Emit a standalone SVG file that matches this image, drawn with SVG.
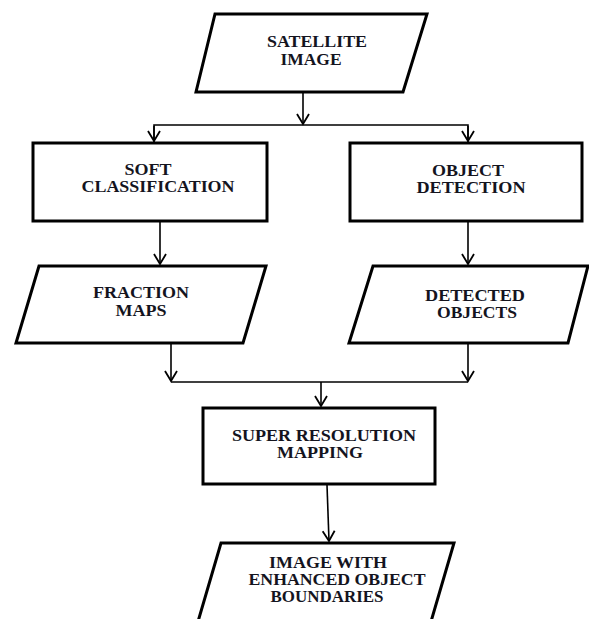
<svg xmlns="http://www.w3.org/2000/svg" width="589" height="619" viewBox="0 0 589 619">
<style>
.node{fill:#fff;stroke:#000;stroke-width:3;stroke-linejoin:miter}
.conn{fill:none;stroke:#000;stroke-width:1.6}
text{font-family:"Liberation Serif","Times New Roman",serif;font-weight:bold;font-size:16px;fill:#14141e;text-anchor:middle}
</style>
<defs>
<marker id="arr" markerUnits="userSpaceOnUse" markerWidth="16" markerHeight="16" viewBox="-13 -8 16 16" refX="0" refY="0" orient="auto">
<path d="M-10,-6 L0,0 L-10,6" fill="none" stroke="#000" stroke-width="1.8"/>
</marker>
</defs>
<rect width="589" height="619" fill="#fff"/>
<g id="connectors">
<line class="conn" x1="303" y1="93" x2="303" y2="124" marker-end="url(#arr)"/>
<polyline class="conn" points="154,142 154,125 468,125 468,142"/>
<path class="conn" d="M154,126 L154,141" marker-end="url(#arr)"/>
<path class="conn" d="M468,126 L468,141" marker-end="url(#arr)"/>
<line class="conn" x1="160" y1="222" x2="160" y2="264" marker-end="url(#arr)"/>
<line class="conn" x1="468" y1="222" x2="468" y2="264" marker-end="url(#arr)"/>
<line class="conn" x1="171" y1="344" x2="171" y2="381" marker-end="url(#arr)"/>
<line class="conn" x1="468" y1="344" x2="468" y2="381" marker-end="url(#arr)"/>
<line class="conn" x1="171" y1="382" x2="468" y2="382"/>
<line class="conn" x1="321" y1="382" x2="321" y2="406" marker-end="url(#arr)"/>
<line class="conn" x1="327" y1="485" x2="329" y2="541" marker-end="url(#arr)"/>
</g>
<g id="satellite-image">
<polygon class="node" points="215,14 427,14 403,92 196,92"/>
<text x="317" y="47" textLength="100" lengthAdjust="spacingAndGlyphs">SATELLITE</text>
<text x="311" y="65" textLength="61" lengthAdjust="spacingAndGlyphs">IMAGE</text>
</g>
<g id="soft-classification">
<rect class="node" x="33" y="143" width="234" height="78"/>
<text x="148" y="175" textLength="47" lengthAdjust="spacingAndGlyphs">SOFT</text>
<text x="158" y="192" textLength="153" lengthAdjust="spacingAndGlyphs">CLASSIFICATION</text>
</g>
<g id="object-detection">
<rect class="node" x="350" y="143" width="232" height="78"/>
<text x="468" y="176" textLength="72" lengthAdjust="spacingAndGlyphs">OBJECT</text>
<text x="471" y="193" textLength="109" lengthAdjust="spacingAndGlyphs">DETECTION</text>
</g>
<g id="fraction-maps">
<polygon class="node" points="39,266 266,266 243,343 16,343"/>
<text x="141" y="298" textLength="96" lengthAdjust="spacingAndGlyphs">FRACTION</text>
<text x="141" y="316" textLength="51" lengthAdjust="spacingAndGlyphs">MAPS</text>
</g>
<g id="detected-objects">
<polygon class="node" points="373,266 588,266 568,343 349,343"/>
<text x="475" y="301" textLength="100" lengthAdjust="spacingAndGlyphs">DETECTED</text>
<text x="477" y="318" textLength="80" lengthAdjust="spacingAndGlyphs">OBJECTS</text>
</g>
<g id="super-resolution-mapping">
<rect class="node" x="203" y="408" width="232" height="76"/>
<text x="324" y="441" textLength="184" lengthAdjust="spacingAndGlyphs">SUPER RESOLUTION</text>
<text x="320" y="458" textLength="86" lengthAdjust="spacingAndGlyphs">MAPPING</text>
</g>
<g id="enhanced-image">
<polygon class="node" points="221,543 454,543 430,625 197,625"/>
<text x="328" y="568" textLength="118" lengthAdjust="spacingAndGlyphs">IMAGE WITH</text>
<text x="337" y="585" textLength="177" lengthAdjust="spacingAndGlyphs">ENHANCED OBJECT</text>
<text x="327" y="602" textLength="113" lengthAdjust="spacingAndGlyphs">BOUNDARIES</text>
</g>
</svg>
